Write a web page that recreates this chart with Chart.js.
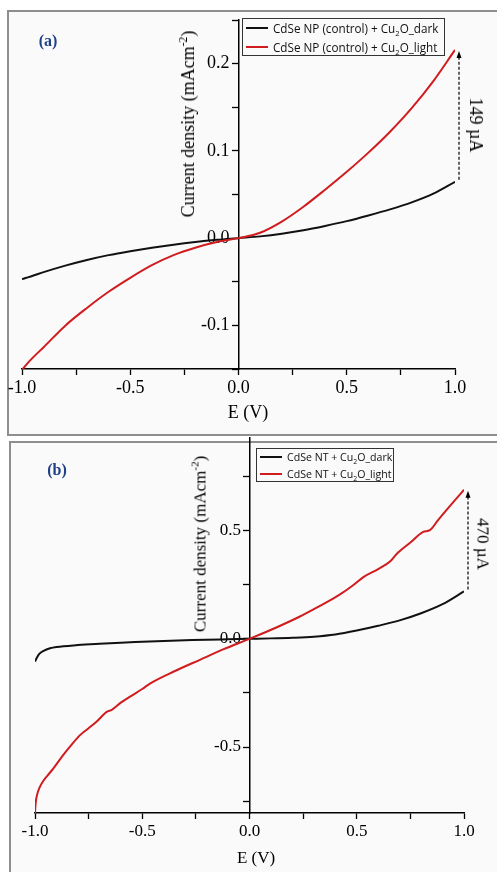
<!DOCTYPE html>
<html>
<head>
<meta charset="utf-8">
<script src="https://cdn.jsdelivr.net/npm/chart.js@4.4.1/dist/chart.umd.min.js"></script>
<style>
  body { margin: 0; background: #fff; }
  #page { position: relative; width: 497px; height: 872px; overflow: hidden; font-family: "Liberation Serif", serif; }
  .frame { position: absolute; box-sizing: border-box; border: 2px solid #8e8e8e; background: #fafafa; }
  canvas { position: absolute; left: 0; }
  .lbl { position: absolute; white-space: nowrap; color: #000; transform: translate(-50%, -50%); line-height: 1; }
  .up { transform: translate(-50%, -50%) rotate(-90deg); }
  .down { transform: translate(-50%, -50%) rotate(90deg); }
  .tag { font-weight: bold; color: #1f3f86; }
  sup, sub { font-size: 65%; line-height: 0; }
  .legend { position: absolute; box-sizing: border-box; border: 1px solid #333; background: #fafafa; font-family: "Open Sans", sans-serif; color: #111; }
  .legend .row { position: absolute; left: 3px; white-space: nowrap; line-height: 1; }
  .legend .swatch { display: inline-block; width: 22px; height: 2px; vertical-align: middle; margin-right: 5px; position: relative; top: -1px; }
</style>
</head>
<body>
<div id="page">
  <div class="frame" style="left:7px;top:10px;width:500px;height:426px"></div>
  <div class="frame" style="left:9px;top:441px;width:500px;height:440px"></div>
  <canvas id="chartA" width="497" height="436" style="top:0"></canvas>
  <canvas id="chartB" width="497" height="452" style="top:420px"></canvas>

  <div class="lbl tag" style="left:48px;top:41px;font-size:16px">(a)</div>
  <div class="lbl up" style="left:188px;top:124px;font-size:18px">Current density (mAcm<sup>-2</sup>)</div>
  <div class="lbl" style="left:248px;top:412px;font-size:18px">E (V)</div>
  <div class="lbl down" style="left:476px;top:125px;font-size:18px">149 µA</div>

  <div class="lbl tag" style="left:57px;top:470px;font-size:16px">(b)</div>
  <div class="lbl up" style="left:200px;top:544px;font-size:17px">Current density (mAcm<sup>-2</sup>)</div>
  <div class="lbl" style="left:256px;top:857px;font-size:17px">E (V)</div>
  <div class="lbl down" style="left:483px;top:544px;font-size:17px">470 µA</div>

  <div class="legend" id="legendA" style="left:242px;top:18px;width:203px;height:38px;font-size:11.7px"></div>
  <div class="legend" id="legendB" style="left:256px;top:448px;width:138px;height:34px;font-size:10.6px"></div>
</div>
<script>
// ---- panel (a): CdSe NP (control) + Cu2O ----
const voltA = [-1.0, -0.98, -0.95, -0.9, -0.8, -0.7, -0.6, -0.5, -0.4, -0.3, -0.2, -0.1, 0,
  0.1, 0.2, 0.3, 0.4, 0.5, 0.6, 0.7, 0.8, 0.9, 1.0];
const darkA = [-0.047, -0.0455, -0.0432, -0.039, -0.0315, -0.025, -0.0195, -0.0150, -0.0110, -0.0075, -0.0045, -0.002, 0,
  0.002, 0.005, 0.009, 0.014, 0.0195, 0.026, 0.033, 0.041, 0.051, 0.0645];
const lightA = [-0.151, -0.145, -0.137, -0.125, -0.1003, -0.080, -0.0615, -0.0455, -0.0310, -0.0195, -0.0110, -0.0045, 0,
  0.0062, 0.0190, 0.0360, 0.0555, 0.0760, 0.0980, 0.1220, 0.1490, 0.1800, 0.2157];

// ---- panel (b): CdSe NT + Cu2O ----
const voltDarkB = [-1.0, -0.99, -0.98, -0.96, -0.93, -0.9, -0.8, -0.7, -0.6, -0.5, -0.4, -0.3, -0.2, -0.1, 0,
  0.1, 0.2, 0.3, 0.4, 0.5, 0.6, 0.7, 0.8, 0.9, 1.0];
const darkB = [-0.105, -0.085, -0.070, -0.056, -0.044, -0.038, -0.029, -0.023, -0.018, -0.014, -0.010, -0.007, -0.004, -0.002, 0,
  0.002, 0.005, 0.010, 0.020, 0.038, 0.060, 0.085, 0.118, 0.160, 0.219];
const voltLightB = [-1.0, -0.997, -0.99, -0.98, -0.96, -0.94, -0.915, -0.868, -0.83, -0.79, -0.75, -0.712, -0.666, -0.642,
  -0.6, -0.557, -0.5, -0.464, -0.35, -0.231, -0.12, 0, 0.12, 0.235, 0.3, 0.375, 0.422, 0.48, 0.531, 0.6, 0.655,
  0.686, 0.75, 0.81, 0.841, 0.88, 0.919, 0.96, 1.0];
const lightB = [-0.805, -0.76, -0.72, -0.69, -0.655, -0.63, -0.60, -0.536, -0.49, -0.445, -0.413, -0.382, -0.338, -0.328,
  -0.295, -0.267, -0.232, -0.207, -0.150, -0.097, -0.048, 0, 0.050, 0.103, 0.137, 0.178, 0.205, 0.245, 0.285, 0.322, 0.357,
  0.392, 0.445, 0.494, 0.502, 0.55, 0.596, 0.643, 0.689];

// axis ticks (marks) and which of them get a number
const xTicks = [-1.0, -0.75, -0.5, -0.25, 0, 0.25, 0.5, 0.75, 1.0];
const xLabels = [-1.0, -0.5, 0, 0.5, 1.0];
const yTicksA = [-0.15, -0.1, -0.05, 0, 0.05, 0.1, 0.15, 0.2, 0.25];
const yLabelsA = [-0.1, 0, 0.1, 0.2];
const yTicksB = [-0.75, -0.5, -0.25, 0, 0.25, 0.5, 0.75];
const yLabelsB = [-0.5, 0, 0.5];

const labelsA = ["CdSe NP (control) + Cu2O_dark", "CdSe NP (control) + Cu2O_light"];
const labelsB = ["CdSe NT + Cu2O_dark", "CdSe NT + Cu2O_light"];
const colors = ["#111111", "#d01c1f"];

function pairs(xs, ys) {
  return xs.map((x, i) => ({ x: x, y: ys[i] }));
}

// dashed arrow between the dark and light end points at E = 1.0
const gapArrow = {
  id: "gapArrow",
  afterDatasetsDraw(chart, args, opts) {
    const ctx = chart.ctx;
    const px = chart.scales.x.getPixelForValue(1.0) + opts.dx;
    const yLow = chart.scales.y.getPixelForValue(opts.from) - 2;
    const yHigh = chart.scales.y.getPixelForValue(opts.to) + 1;
    ctx.save();
    ctx.strokeStyle = "#000";
    ctx.fillStyle = "#000";
    ctx.lineWidth = 1.2;
    ctx.setLineDash([3, 2]);
    ctx.beginPath();
    ctx.moveTo(px, yLow);
    ctx.lineTo(px, yHigh + 6);
    ctx.stroke();
    ctx.setLineDash([]);
    ctx.beginPath();
    ctx.moveTo(px, yHigh);
    ctx.lineTo(px - 2.5, yHigh + 7);
    ctx.lineTo(px + 2.5, yHigh + 7);
    ctx.closePath();
    ctx.fill();
    ctx.restore();
  }
};

function makeChart(id, series, labels, p) {
  const datasets = series.map((s, i) => ({
    label: labels[i],
    data: s,
    borderColor: colors[i],
    borderWidth: 2,
    pointRadius: 0,
    order: series.length - i, // light curve drawn on top
    cubicInterpolationMode: "monotone"
  }));
  return new Chart(document.getElementById(id), {
    type: "line",
    data: { datasets: datasets },
    plugins: [gapArrow],
    options: {
      responsive: false,
      animation: false,
      layout: { padding: p.padding },
      plugins: {
        legend: { display: false },
        tooltip: { enabled: false },
        gapArrow: { dx: 4, from: p.darkEnd, to: p.lightEnd }
      },
      scales: {
        x: {
          type: "linear",
          position: "bottom",
          min: -1,
          max: 1,
          border: { color: "#000", width: 1.5 },
          grid: { drawOnChartArea: false, tickLength: 6, tickColor: "#000", tickWidth: 1.3 },
          afterBuildTicks: s => { s.ticks = xTicks.map(v => ({ value: v })); },
          afterFit: s => { s.height = p.xHeight; },
          ticks: {
            color: "#000",
            padding: 2,
            maxRotation: 0,
            autoSkip: false,
            font: { family: "Liberation Serif", size: p.fontSize },
            callback: v => (xLabels.indexOf(v) >= 0 ? v.toFixed(1) : "")
          }
        },
        y: {
          type: "linear",
          position: { x: 0 },
          min: p.yMin,
          max: p.yMax,
          border: { color: "#000", width: 1.5 },
          grid: { drawOnChartArea: false, tickLength: 6, tickColor: "#000", tickWidth: 1.3 },
          afterBuildTicks: s => { s.ticks = p.yTicks.map(v => ({ value: v })); },
          ticks: {
            color: "#000",
            autoSkip: false,
            font: { family: "Liberation Serif", size: p.fontSize },
            // a centred axis right-aligns its labels on the axis line, so keep a small gap
            callback: v => (p.yLabels.indexOf(v) >= 0 ? v.toFixed(1) + "\u00a0\u00a0" : "")
          }
        }
      }
    }
  });
}

function makeLegend(id, labels) {
  const box = document.getElementById(id);
  const rowH = parseFloat(box.style.height) / 2;
  labels.forEach((text, i) => {
    const row = document.createElement("div");
    row.className = "row";
    row.style.top = (rowH * i + rowH / 2 - 6) + "px";
    const sw = document.createElement("span");
    sw.className = "swatch";
    sw.style.background = colors[i];
    row.appendChild(sw);
    const parts = text.split("Cu2O");
    row.appendChild(document.createTextNode(parts[0] + "Cu"));
    const sub = document.createElement("sub");
    sub.textContent = "2";
    row.appendChild(sub);
    row.appendChild(document.createTextNode("O" + parts[1]));
    box.appendChild(row);
  });
}

makeChart("chartA", [pairs(voltA, darkA), pairs(voltA, lightA)], labelsA, {
  padding: { left: 22, right: 42, top: 20, bottom: 0 },
  xHeight: 67,
  yMin: -0.15, yMax: 0.25,
  yTicks: yTicksA, yLabels: yLabelsA,
  fontSize: 18,
  darkEnd: darkA[darkA.length - 1], lightEnd: lightA[lightA.length - 1]
});

makeChart("chartB", [pairs(voltDarkB, darkB), pairs(voltLightB, lightB)], labelsB, {
  padding: { left: 35, right: 33, top: 18, bottom: 0 },
  xHeight: 59,
  yMin: -0.805, yMax: 0.928,
  yTicks: yTicksB, yLabels: yLabelsB,
  fontSize: 17,
  darkEnd: darkB[darkB.length - 1], lightEnd: lightB[lightB.length - 1]
});

makeLegend("legendA", labelsA);
makeLegend("legendB", labelsB);
</script>
</body>
</html>
